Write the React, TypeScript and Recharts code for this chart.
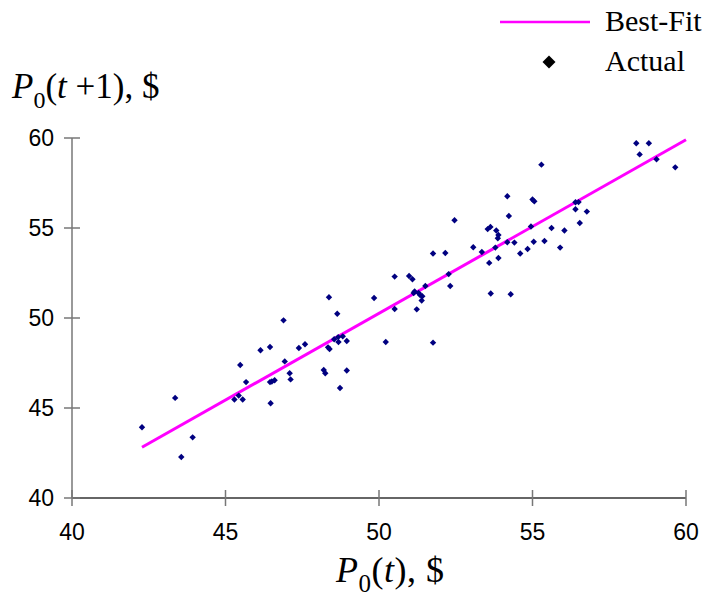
import React from "react";
import { Label, Scatter, ScatterChart, XAxis, YAxis } from "recharts";

// P0(t) on the x axis, P0(t+1) on the y axis
const actualX = [
  42.28, 43.56, 43.93, 43.36, 45.29, 45.43, 45.56, 45.48, 45.67, 46.14,
  46.45, 46.45, 46.6, 46.51, 46.47, 46.93, 47.09, 47.12, 47.39, 47.59,
  46.89, 48.2, 48.25, 48.95, 48.73, 48.54, 48.67, 48.82, 48.68, 48.95,
  48.34, 48.39, 48.64, 48.37, 49.84, 50.22, 50.51, 50.51, 50.98, 51.09,
  51.23, 51.39, 51.16, 51.13, 51.29, 51.34, 51.41, 51.51, 51.76, 51.76,
  52.16, 52.27, 52.32, 52.46, 53.07, 53.35, 53.54, 53.63, 53.59, 53.64,
  53.79, 53.82, 53.89, 53.87, 53.89, 54.18, 54.23, 54.18, 54.41, 54.29,
  54.6, 54.84, 54.95, 55.0, 55.06, 55.04, 55.29, 55.39, 55.62, 55.9,
  56.04, 56.4, 56.5, 56.4, 56.54, 56.77, 58.38, 58.79, 58.49, 59.04,
  59.65,
];
const actualY = [
  43.93, 42.28, 43.37, 45.56, 45.47, 45.69, 45.47, 47.39, 46.44, 48.21,
  48.39, 46.44, 46.54, 46.47, 45.26, 47.59, 46.93, 46.59, 48.33, 48.54,
  49.87, 47.11, 46.93, 47.08, 46.11, 48.82, 48.94, 48.98, 48.67, 48.72,
  48.37, 48.28, 50.24, 51.15, 51.11, 48.67, 50.5, 52.3, 52.33, 52.15,
  50.48, 50.97, 51.47, 51.39, 51.39, 51.28, 51.21, 51.78, 48.63, 53.58,
  53.61, 52.44, 51.78, 55.43, 53.93, 53.67, 54.94, 55.06, 53.06, 51.36,
  53.91, 54.86, 54.61, 54.43, 53.33, 56.76, 55.67, 54.21, 54.19, 51.32,
  53.58, 53.83, 55.08, 56.58, 56.48, 54.24, 58.52, 54.28, 55.0, 53.91,
  54.86, 56.43, 56.44, 56.04, 55.28, 55.91, 59.71, 59.71, 59.09, 58.82,
  58.37,
];

const fitX = [42.28, 60];
const fitY = [42.82, 59.9];

const axisTicks = [40, 45, 50, 55, 60];

const actualData = actualX.map((x, i) => ({ x, y: actualY[i] }));
const fitData = fitX.map((x, i) => ({ x, y: fitY[i] }));

const serif = "'Liberation Serif', 'Times New Roman', serif";
const sans = "'Liberation Sans', Arial, sans-serif";

function Diamond({ cx, cy, fill, r = 3.2 }: any) {
  if (cx == null || cy == null) return <g />;
  return <polygon points={`${cx},${cy - r} ${cx + r},${cy} ${cx},${cy + r} ${cx - r},${cy}`} fill={fill} />;
}

function XTick({ x, y, payload }: any) {
  return (
    <g>
      <line x1={x} y1={y - 16} x2={x} y2={y} stroke="#777" strokeWidth={1.5} />
      <text x={x} y={y + 34} textAnchor="middle" fontFamily={sans} fontSize={23} fill="#000">
        {payload.value}
      </text>
    </g>
  );
}

function YTick({ x, y, payload }: any) {
  return (
    <g>
      <line x1={x} y1={y} x2={x + 16} y2={y} stroke="#777" strokeWidth={1.5} />
      <text x={x - 10} y={y} textAnchor="end" dominantBaseline="central" fontFamily={sans} fontSize={23} fill="#000">
        {payload.value}
      </text>
    </g>
  );
}

function YTitle({ viewBox }: any) {
  return (
    <text x={viewBox.x + 12} y={viewBox.y - 40} fontFamily={serif} fontSize={35} fill="#000">
      <tspan fontStyle="italic">P</tspan>
      <tspan fontSize={24} dy={10}>0</tspan>
      <tspan dy={-10}>(</tspan>
      <tspan fontStyle="italic">t</tspan>
      <tspan> +1), $</tspan>
    </text>
  );
}

function XTitle({ viewBox }: any) {
  return (
    <text x={viewBox.x + 264} y={viewBox.y + 84} fontFamily={serif} fontSize={36} fill="#000" letterSpacing={0.5}>
      <tspan fontStyle="italic">P</tspan>
      <tspan fontSize={25} dy={10}>0</tspan>
      <tspan dy={-10}>(</tspan>
      <tspan fontStyle="italic">t</tspan>
      <tspan>), $</tspan>
    </text>
  );
}

const legendItems = [
  { name: "Best-Fit", color: "#ff00ff", kind: "line" },
  { name: "Actual", color: "#000000", kind: "diamond" },
];

function ChartLegend() {
  return (
    <svg width={223} height={80} style={{ position: "absolute", left: 490, top: 0 }}>
      {legendItems.map((item, i) => {
        const cy = 22 + i * 40;
        return (
          <g key={item.name}>
            {item.kind === "line" ? (
              <line x1={10} y1={cy} x2={100} y2={cy} stroke={item.color} strokeWidth={2.5} />
            ) : (
              <Diamond cx={59} cy={cy} r={6.5} fill={item.color} />
            )}
            <text x={115} y={cy + 9} fontFamily={serif} fontSize={30} fill="#000">
              {item.name}
            </text>
          </g>
        );
      })}
    </svg>
  );
}

export default function App() {
  return (
    <div style={{ position: "absolute", left: 0, top: 0, width: 713, height: 599, background: "#fff" }}>
      <ScatterChart width={713} height={599} margin={{ top: 138, right: 27, bottom: 0, left: 0 }}>
        <XAxis
          type="number"
          dataKey="x"
          domain={[40, 60]}
          ticks={axisTicks}
          height={101}
          axisLine={{ stroke: "#333", strokeWidth: 1.5 }}
          tickLine={false}
          tickSize={8}
          tickMargin={0}
          tick={<XTick />}
          interval={0}
        >
          <Label content={<XTitle />} />
        </XAxis>
        <YAxis
          type="number"
          dataKey="y"
          domain={[40, 60]}
          ticks={axisTicks}
          width={72}
          axisLine={{ stroke: "#777", strokeWidth: 1.5 }}
          tickLine={false}
          tickSize={8}
          tickMargin={0}
          tick={<YTick />}
          interval={0}
        >
          <Label content={<YTitle />} />
        </YAxis>
        <Scatter
          name="Best-Fit"
          data={fitData}
          line={{ stroke: "#ff00ff", strokeWidth: 3 }}
          shape={() => <g />}
          isAnimationActive={false}
        />
        <Scatter
          name="Actual"
          data={actualData}
          fill="#000080"
          shape={(p: any) => <Diamond cx={p.cx} cy={p.cy} fill="#000080" />}
          isAnimationActive={false}
        />
      </ScatterChart>
      <ChartLegend />
    </div>
  );
}
